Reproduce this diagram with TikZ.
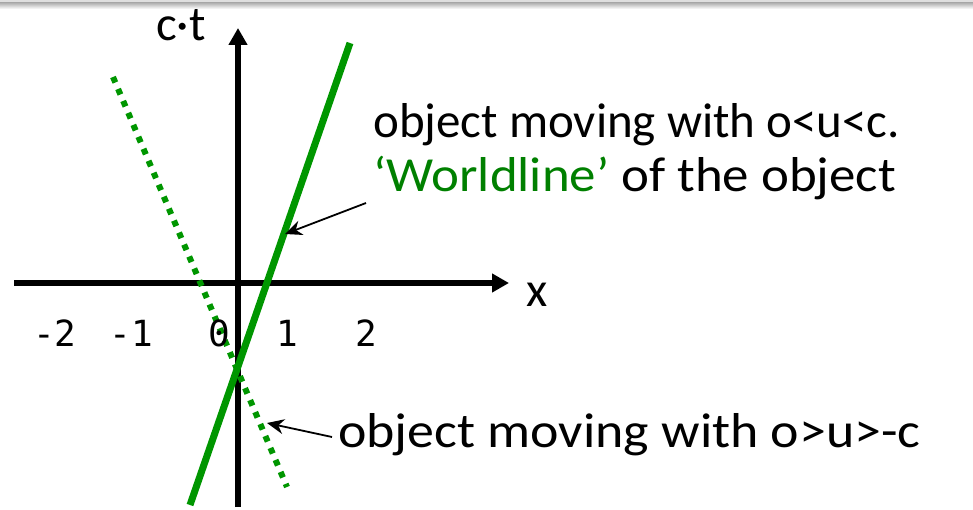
\documentclass[tikz,border=0pt]{standalone}
\usepackage{fontspec}
\setmainfont{Carlito}
\newfontfamily\monof{DejaVu Sans Mono}
\usetikzlibrary{arrows.meta}
\definecolor{wlgreen}{RGB}{0,150,0}
\definecolor{txtgreen}{RGB}{0,128,0}
\tikzset{
  axis/.style={line width=6pt, -{Triangle[length=17pt,width=18pt]}},
  worldline/.style={line width=7pt, wlgreen},
  dotline/.style={line width=6pt, wlgreen, dash pattern=on 6pt off 7pt},
  pointer/.style={line width=1.8pt, -{Stealth[length=17pt,width=15pt]}},
  tick/.style={font=\monof\fontsize{36}{40}\selectfont, inner sep=0pt},
  lbl/.style={font=\fontsize{49}{58}\selectfont, inner sep=0pt},
}
\begin{document}
\begin{tikzpicture}[x=1pt,y=1pt]
\useasboundingbox (0,0) rectangle (973,509);
% top frame band
\fill[gray!25] (0,506.5) rectangle (973,509);
\shade[top color=gray!65, bottom color=white] (0,500) rectangle (973,506.5);
% axes
\coordinate (yb) at (238,2);
\coordinate (yt) at (238,481);
\coordinate (xl) at (14,226);
\coordinate (xr) at (509,226);
\draw[axis] (yb) -- (yt);
\draw[axis] (xl) -- (xr);
% worldlines
\coordinate (s1) at (190,4);
\coordinate (s2) at (350,466);
\draw[worldline] (s1) -- (s2);
\coordinate (d1) at (113,432);
\coordinate (d2) at (287,22);
\draw[dotline] (d1) -- (d2);
% axis labels
\node[lbl] (ct) at (181,484) {c·t};
\node[lbl] (xlab) at (537,214) {x};
% ticks
\node[tick] (tm2) at (55,176) {-2};
\node[tick] (tm1) at (131,176) {-1};
\node[tick] (t0) at (219,176) {0};
\node[tick] (t1) at (287,176) {1};
\node[tick] (t2) at (366,176) {2};
% annotations
\node[lbl, anchor=base west] (l1) at (373,371) {object moving with o<u<c.};
\node[lbl, anchor=base west, xscale=1.08] (l2) at (373,317) {\textcolor{txtgreen}{‘Worldline’} of the object};
\node[lbl, anchor=base west, xscale=1.10] (l3) at (338,62) {object moving with o>u>-c};
% pointers
\coordinate (p1s) at (366,306);
\coordinate (p1e) at (285,275);
\draw[pointer] (p1s) -- (p1e);
\coordinate (p2s) at (332,72);
\coordinate (p2e) at (267,86);
\draw[pointer] (p2s) -- (p2e);
\end{tikzpicture}
\end{document}
